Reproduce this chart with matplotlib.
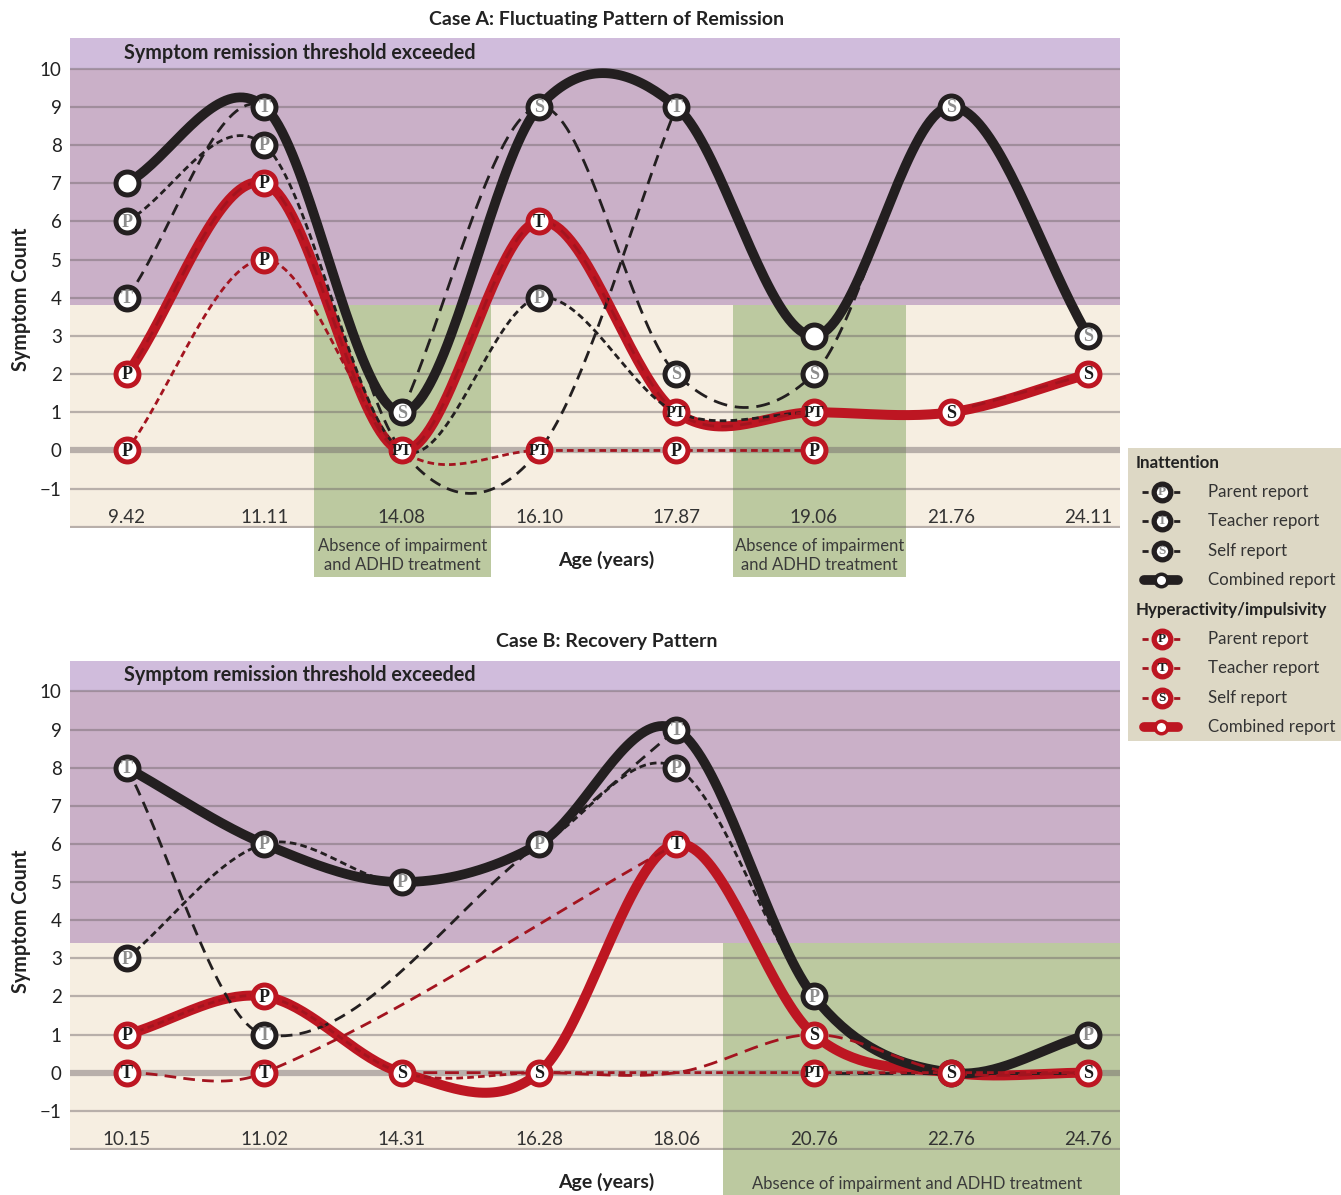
import numpy as np
import matplotlib.pyplot as plt
from matplotlib.patches import Rectangle

nan = np.nan

# Case A: fluctuating pattern of remission
ages_a = ['9.42', '11.11', '14.08', '16.10', '17.87', '19.06', '21.76', '24.11']
ina_a_parent = [6, 8, 0, 4, 1, 1, nan, nan]
ina_a_teacher = [4, 9, 0, 0, 9, nan, nan, nan]
ina_a_self = [nan, nan, 1, 9, 2, 2, 9, 3]
ina_a_comb = [7, 9, 1, 9, 9, 3, 9, 3]
hyp_a_parent = [0, 5, 0, 0, 0, 0, nan, nan]
hyp_a_teacher = [2, 7, 0, 6, 1, 1, nan, nan]
hyp_a_self = [nan, nan, nan, nan, nan, nan, 1, 2]
hyp_a_comb = [2, 7, 0, 6, 1, 1, 1, 2]

# marker letters (None = no marker, '' = plain circle)
lab_ina_a_parent = ['P', 'P', None, 'P', None, None, None, None]
lab_ina_a_teacher = ['T', None, None, None, None, None, None, None]
lab_ina_a_self = [None, None, None, None, 'S', 'S', None, None]
lab_ina_a_comb = ['', 'T', 'S', 'S', 'T', '', 'S', 'S']
lab_hyp_a_parent = ['P', 'P', None, 'PT', 'P', 'P', None, None]
lab_hyp_a_comb = ['P', 'P', 'PT', 'T', 'PT', 'PT', 'S', 'S']

# Case B: recovery pattern
ages_b = ['10.15', '11.02', '14.31', '16.28', '18.06', '20.76', '22.76', '24.76']
ina_b_parent = [3, 6, 5, 6, 8, 2, 0, 1]
ina_b_teacher = [8, 1, nan, 6, 9, nan, nan, nan]
ina_b_self = [nan, nan, nan, nan, nan, 0, 0, 0]
ina_b_comb = [8, 6, 5, 6, 9, 2, 0, 1]
hyp_b_parent = [1, 2, 0, 0, 0, 0, 0, 0]
hyp_b_teacher = [0, 0, nan, nan, 6, nan, nan, nan]
hyp_b_self = [nan, nan, 0, 0, 0, 1, 0, 0]
hyp_b_comb = [1, 2, 0, 0, 6, 1, 0, 0]

lab_ina_b_parent = ['P', None, None, None, 'P', None, None, None]
lab_ina_b_teacher = [None, 'T', None, None, None, None, None, None]
lab_ina_b_comb = ['T', 'P', 'P', 'P', 'T', 'P', '', 'P']
lab_hyp_b_parent = [None, None, None, None, None, 'PT', None, None]
lab_hyp_b_teacher = ['T', 'T', None, None, None, None, None, None]
lab_hyp_b_comb = ['P', 'P', 'S', 'S', 'T', 'S', 'S', 'S']

# shading: remission threshold and "absence of impairment" spans (category units)
thr_a = 3.82
green_a = [(1.36, 2.65), (4.41, 5.67)]
thr_b = 3.41
green_b = [(4.34, 7.23)]

BLK = '#231F20'
RED = '#BD1622'
DRED = '#A3141F'
PURPLE = '#CAB0C8'
BAND = '#D0BCDC'
CREAM = '#F6EEE1'
GREEN = '#BCC9A0'
GRID = '#6E6468'
LEG_BG = '#DDD8C5'

plt.rcParams['font.family'] = ['Lato', 'DejaVu Sans']

DASH_P = (2.4, 1.5)
DASH_T = (4.2, 2.6)
DASH_S = (5.0, 2.8)


def smooth(vals, n=40):
    # Catmull-Rom style cubic through the available points
    y = np.asarray(vals, float)
    x = np.arange(len(y), dtype=float)
    ok = ~np.isnan(y)
    x, y = x[ok], y[ok]
    m = np.empty_like(y)
    m[1:-1] = (y[2:] - y[:-2]) / (x[2:] - x[:-2])
    m[0] = (y[1] - y[0]) / (x[1] - x[0])
    m[-1] = (y[-1] - y[-2]) / (x[-1] - x[-2])
    xs, ys = [], []
    t = np.linspace(0, 1, n)
    for i in range(len(x) - 1):
        h = x[i + 1] - x[i]
        h00 = 2 * t**3 - 3 * t**2 + 1
        h10 = t**3 - 2 * t**2 + t
        h01 = -2 * t**3 + 3 * t**2
        h11 = t**3 - t**2
        xs.append(x[i] + t * h)
        ys.append(h00 * y[i] + h10 * h * m[i] + h01 * y[i + 1] + h11 * h * m[i + 1])
    return np.concatenate(xs), np.concatenate(ys)


def markers(ax, vals, labs, edge, tcol, z):
    for i, (v, lab) in enumerate(zip(vals, labs)):
        if lab is None:
            continue
        ax.plot(i, v, 'o', ms=16.5, mfc='white', mec=edge, mew=3.6, zorder=z)
        if lab:
            ax.annotate(lab, (i, v), xytext=(0, -0.6), textcoords='offset points',
                        ha='center', va='center',
                        fontsize=13 if len(lab) == 1 else 11.5, fontweight='bold',
                        family='Liberation Serif', color=tcol, zorder=z + 0.5)


def panel(ax, ages, thr, greens, green_bot, ina, hyp, labs):
    top = 10.8
    bot = -2.03
    ax.set_xlim(-0.415, 7.23)
    ax.set_ylim(bot, top)
    ax.axhspan(thr, 10, color=PURPLE, lw=0, zorder=0)
    ax.axhspan(10, top, color=BAND, lw=0, zorder=0)
    ax.axhspan(bot, thr, color=CREAM, lw=0, zorder=0)
    for g0, g1 in greens:
        ax.add_patch(Rectangle((g0, green_bot), g1 - g0, thr - green_bot,
                               color=GREEN, lw=0, zorder=0.5, clip_on=False))
    for lv in range(-2, 11):
        if lv == 0:
            ax.axhline(0, color=GRID, alpha=0.45, lw=4.5, zorder=1)
        else:
            ax.axhline(lv, color=GRID, alpha=0.45, lw=1.6, zorder=1)
    ax.text(-0.02, 10.42, 'Symptom remission threshold exceeded', fontsize=14.2,
            fontweight='bold', color='#222222', va='center', ha='left', zorder=2)

    i_par, i_tea, i_sel, i_com = ina
    h_par, h_tea, h_sel, h_com = hyp
    # combined lines
    ax.plot(*smooth(h_com), color=RED, lw=7.2, solid_capstyle='round', zorder=3)
    ax.plot(*smooth(i_com), color=BLK, lw=7.0, solid_capstyle='round', zorder=3.2)
    # single informant lines
    ax.plot(*smooth(i_par), color=BLK, lw=2.0, dashes=DASH_P, zorder=4)
    ax.plot(*smooth(i_tea), color=BLK, lw=2.0, dashes=DASH_T, zorder=4)
    ax.plot(*smooth(i_sel), color=BLK, lw=2.0, dashes=DASH_S, zorder=4)
    ax.plot(*smooth(h_par), color=DRED, lw=2.0, dashes=DASH_P, zorder=4.1)
    ax.plot(*smooth(h_tea), color=DRED, lw=2.0, dashes=DASH_T, zorder=4.1)
    ax.plot(*smooth(h_sel), color=DRED, lw=2.0, dashes=DASH_S, zorder=4.1)

    li_par, li_tea, li_sel, li_com, lh_par, lh_tea, lh_com = labs
    markers(ax, i_com, li_com, BLK, '#8C8C8C', 5)
    markers(ax, i_par, li_par, BLK, '#8C8C8C', 5)
    markers(ax, i_tea, li_tea, BLK, '#8C8C8C', 5)
    markers(ax, i_sel, li_sel, BLK, '#8C8C8C', 5)
    markers(ax, h_com, lh_com, RED, '#1A1A1A', 6)
    markers(ax, h_par, lh_par, RED, '#1A1A1A', 6)
    markers(ax, h_tea, lh_tea, RED, '#1A1A1A', 6)

    ax.set_yticks(range(-1, 11))
    ax.set_yticklabels([str(v).replace('-', '\u2212') for v in range(-1, 11)])
    ax.set_xticks(range(len(ages)))
    ax.set_xticklabels(ages)
    ax.tick_params(axis='y', length=0, pad=6, labelsize=13.5, labelcolor='#222222')
    ax.tick_params(axis='x', length=0, pad=-14, labelsize=13.5, labelcolor='#333333')
    for s in ax.spines.values():
        s.set_visible(False)
    ax.set_facecolor('none')
    ax.set_ylabel('Symptom Count', fontsize=14.2, fontweight='bold', color='#222222')
    ax.yaxis.set_label_coords(-0.037, 0.467)
    ax.text(0.511, -0.065, 'Age (years)', transform=ax.transAxes, ha='center',
            va='center', fontsize=14, fontweight='bold', color='#222222')


W, H = 1341, 1195
fig = plt.figure(figsize=(W / 100, H / 100), dpi=100)

axA = fig.add_axes([70 / W, 1 - 528 / H, 1050 / W, 490 / H])
panel(axA, ages_a, thr_a, green_a, -3.30,
      (ina_a_parent, ina_a_teacher, ina_a_self, ina_a_comb),
      (hyp_a_parent, hyp_a_teacher, hyp_a_self, hyp_a_comb),
      (lab_ina_a_parent, lab_ina_a_teacher, lab_ina_a_self, lab_ina_a_comb,
       lab_hyp_a_parent, [None] * 8, lab_hyp_a_comb))
for g0, g1 in green_a:
    axA.text((g0 + g1) / 2, -2.75, 'Absence of impairment\nand ADHD treatment',
             ha='center', va='center', fontsize=12, color='#3A3A3A', linespacing=1.2)

axB = fig.add_axes([70 / W, 1 - 1150 / H, 1050 / W, 489 / H])
panel(axB, ages_b, thr_b, green_b, -3.2,
      (ina_b_parent, ina_b_teacher, ina_b_self, ina_b_comb),
      (hyp_b_parent, hyp_b_teacher, hyp_b_self, hyp_b_comb),
      (lab_ina_b_parent, lab_ina_b_teacher, [None] * 8, lab_ina_b_comb,
       lab_hyp_b_parent, lab_hyp_b_teacher, lab_hyp_b_comb))
axB.text(5.75, -2.92, 'Absence of impairment and ADHD treatment', ha='center',
         va='center', fontsize=12, color='#3A3A3A')

fig.text(607 / W, 1 - 20 / H, 'Case A: Fluctuating Pattern of Remission', ha='center',
         va='center', fontsize=14, fontweight='bold', color='#222222')
fig.text(607 / W, 1 - 642 / H, 'Case B: Recovery Pattern', ha='center',
         va='center', fontsize=14, fontweight='bold', color='#222222')

# legend panel
lg = fig.add_axes([1128 / W, 1 - 741 / H, 213 / W, 293 / H])
lg.set_xlim(0, 213)
lg.set_ylim(293, 0)
lg.axis('off')
lg.add_patch(Rectangle((0, 0), 213, 293, color=LEG_BG, lw=0))
groups = [('Inattention', 15, BLK, BLK, '#8C8C8C'),
          ('Hyperactivity/impulsivity', 162, RED, DRED, '#1A1A1A')]
items = [('Parent report', 'P', DASH_P), ('Teacher report', 'T', DASH_T),
         ('Self report', 'S', DASH_S), ('Combined report', '', None)]
for title, y0, edge, lcol, tcol in groups:
    lg.text(8, y0, title, fontsize=12.2, fontweight='bold', color='#222222', va='center')
    for k, (name, letter, dash) in enumerate(items):
        yy = y0 + 29 + k * 29.4
        if dash is None:
            lg.plot([16, 50], [yy, yy], color=edge, lw=7, solid_capstyle='round')
            lg.plot(33, yy, 'o', ms=9, mfc='white', mec=edge, mew=2.5)
        else:
            lg.plot([14, 56], [yy, yy], color=lcol, lw=2, dashes=(2.2, 1.6))
            lg.plot(34, yy, 'o', ms=12, mfc='white', mec=edge, mew=3.8)
            lg.text(34, yy, letter, ha='center', va='center', fontsize=9.5,
                    fontweight='bold', family='Liberation Serif', color=tcol)
        lg.text(80, yy, name, fontsize=12.2, color='#333333', va='center')

fig.savefig('out.png', dpi=100)
